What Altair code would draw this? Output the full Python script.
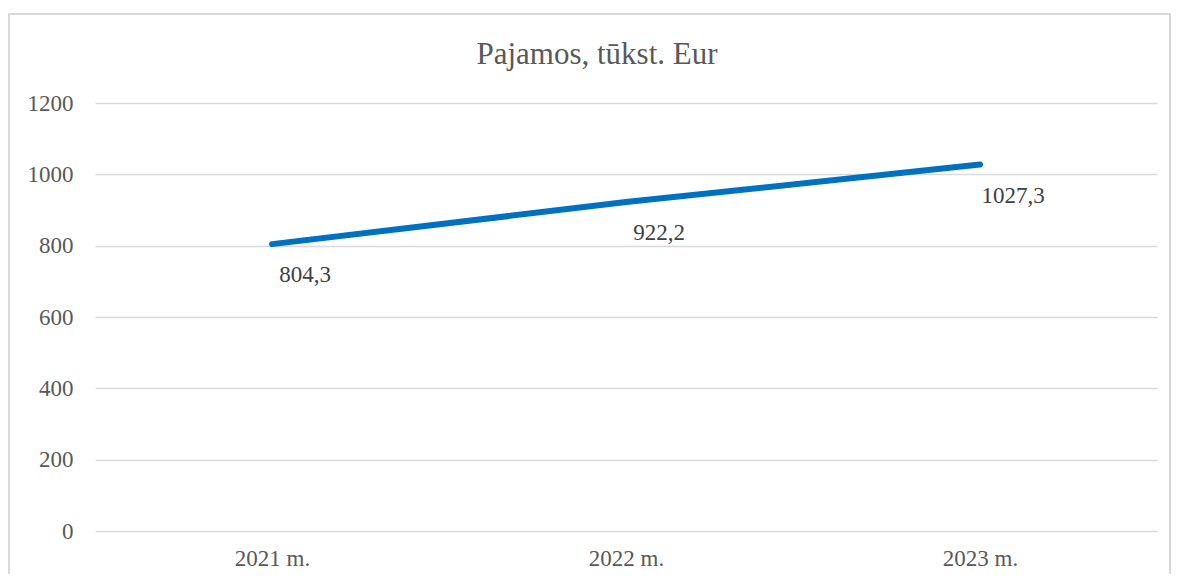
import altair as alt
import pandas as pd

years = ["2021 m.", "2022 m.", "2023 m."]
values = [804.3, 922.2, 1027.3]
labels = ["804,3", "922,2", "1027,3"]
y_ticks = [0, 200, 400, 600, 800, 1000, 1200]
title_text = "Pajamos, tūkst. Eur"

df = pd.DataFrame({"year": years, "value": values, "label": labels})

FONT = "Liberation Serif"
GREY = "#595959"
GRID = "#d9d9d9"

x_enc = alt.X("year:N", sort=years, title=None,
              axis=alt.Axis(labelAngle=0, domain=False, ticks=False, labelPadding=16,
                            labelFont=FONT, labelFontSize=23, labelColor=GREY))
y_enc = alt.Y("value:Q", title=None,
              scale=alt.Scale(domain=[0, 1200], nice=False),
              axis=alt.Axis(values=y_ticks, format="d", domain=False, ticks=False, labelPadding=22,
                            grid=True, gridColor=GRID, gridWidth=1.5,
                            labelFont=FONT, labelFontSize=23, labelColor=GREY))

line = alt.Chart(df).mark_line(color="#0070C0", strokeWidth=6, strokeCap="round").encode(
    x=x_enc, y=y_enc
)

text = alt.Chart(df).mark_text(font=FONT, fontSize=23, color="#404040", dx=33, dy=31,
                               baseline="middle", align="center").encode(
    x=alt.X("year:N", sort=years), y="value:Q", text="label:N"
)

title = alt.Chart(pd.DataFrame({"t": [title_text]})).mark_text(
    font=FONT, fontSize=31, color=GREY, baseline="middle", align="center"
).encode(x=alt.value(502), y=alt.value(-48), text="t:N")

border = alt.Chart(df).mark_rect(filled=False, stroke=GRID, strokeWidth=2).encode(
    x=alt.value(-86), x2=alt.value(1075), y=alt.value(-89), y2=alt.value(600)
)

chart = alt.layer(border, line, text, title).properties(
    width=1062, height=428,
    autosize=alt.AutoSizeParams(type="none"),
    padding={"left": 87, "top": 95, "right": 14, "bottom": 43},
).configure_view(stroke=None)

chart.save("out.html", embed_options={"renderer": "svg", "actions": False})
